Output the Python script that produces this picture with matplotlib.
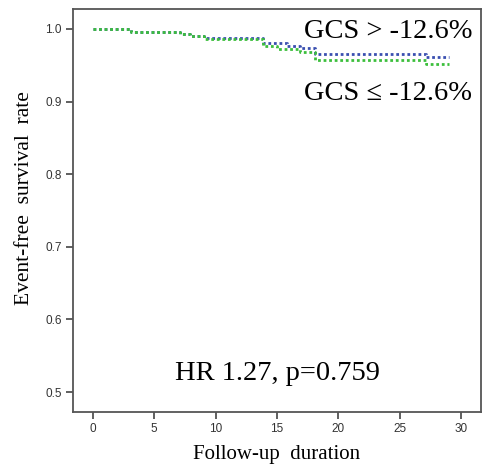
import matplotlib
matplotlib.use("Agg")
import matplotlib.pyplot as plt

# Kaplan-Meier step data (time, survival)
high_t = [0, 3.15, 7.1, 7.9, 9.1, 13.9, 15.8, 16.9, 18.1, 27.1, 29.0]
high_s = [1.0, 0.996, 0.993, 0.990, 0.988, 0.981, 0.977, 0.974, 0.966, 0.962, 0.962]

low_t = [0, 3.15, 7.1, 7.9, 9.1, 13.9, 15.0, 16.9, 18.1, 27.1, 29.0]
low_s = [1.0, 0.996, 0.993, 0.990, 0.986, 0.977, 0.973, 0.968, 0.957, 0.952, 0.952]

x_ticks = [0, 5, 10, 15, 20, 25, 30]
y_ticks = [0.5, 0.6, 0.7, 0.8, 0.9, 1.0]

SERIF = ["Liberation Serif", "DejaVu Serif"]
NARROW = ["Liberation Sans Narrow", "Liberation Sans", "DejaVu Sans"]

fig = plt.figure(figsize=(4.89, 4.65), dpi=100)
ax = fig.add_axes([0.1493, 0.114, 0.8343, 0.8666])

ax.step(high_t, high_s, where="post", color="#3a4fb0", lw=2.0, ls=(0, (1, 1)))
ax.step(low_t, low_s, where="post", color="#3cbf3c", lw=2.0, ls=(0, (1, 1)))

ax.set_xlim(-1.6, 31.6)
ax.set_ylim(0.4725, 1.0275)
ax.set_xticks(x_ticks)
ax.set_yticks(y_ticks)
ax.set_xticklabels([str(v) for v in x_ticks], family=NARROW, fontsize=8.5, color="#333333")
ax.set_yticklabels([f"{v:.1f}" for v in y_ticks], family=NARROW, fontsize=8.5, color="#333333")
ax.tick_params(direction="out", length=5, width=1.2, color="#444444", pad=3)
for sp in ax.spines.values():
    sp.set_color("#555555")
    sp.set_linewidth(1.3)

ax.set_xlabel("Follow-up  duration", family=SERIF, fontsize=15, labelpad=7)
ax.set_ylabel("Event-free  survival  rate", family=SERIF, fontsize=15.5)
ax.yaxis.set_label_coords(-0.095, 0.531)

ax.text(0.978, 0.928, "GCS > -12.6%", transform=ax.transAxes, ha="right", va="baseline",
        family=SERIF, fontsize=20.5)
ax.text(0.978, 0.774, "GCS \u2264 -12.6%", transform=ax.transAxes, ha="right", va="baseline",
        family=SERIF, fontsize=20.5)
ax.text(0.5, 0.079, "HR 1.27, p=0.759", transform=ax.transAxes, ha="center", va="baseline",
        family=SERIF, fontsize=20.5)

fig.savefig("out.png", dpi=100)
